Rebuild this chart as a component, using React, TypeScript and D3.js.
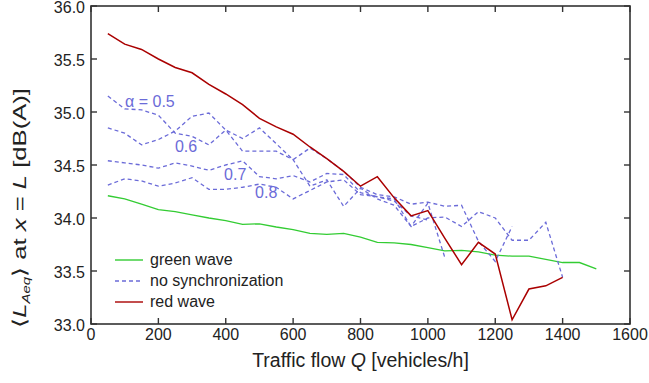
import React from 'react';
import * as d3 from 'd3';

// traffic flow Q [vehicles/h] at which the runs were taken
const flowQ = [
  50, 100, 150, 200, 250, 300, 350, 400, 450, 500, 550, 600, 650, 700, 750,
  800, 850, 900, 950, 1000, 1050, 1100, 1150, 1200, 1250, 1300, 1350, 1400, 1450, 1500,
];

const greenWave = [
  34.21, 34.18, 34.13, 34.08, 34.06, 34.03, 34.0, 33.975, 33.94, 33.945, 33.915, 33.89,
  33.855, 33.845, 33.855, 33.82, 33.77, 33.765, 33.75, 33.72, 33.69, 33.695, 33.68,
  33.65, 33.64, 33.64, 33.61, 33.58, 33.58, 33.52,
];

const redWave = [
  35.74, 35.64, 35.59, 35.5, 35.42, 35.37, 35.26, 35.17, 35.07, 34.94, 34.86, 34.79,
  34.67, 34.56, 34.44, 34.3, 34.39, 34.19, 34.02, 34.07, 33.81, 33.56, 33.77, 33.66,
  33.04, 33.33, 33.36, 33.44,
];

// no synchronization, one run per alpha
const noSync05 = [
  35.15, 35.03, 35.02, 34.97, 34.8, 34.77, 34.69, 34.83, 34.75, 34.85, 34.7, 34.55,
  34.66, 34.56, 34.44, 34.29, 34.22, 34.2, 34.13, 34.15, 34.11, 34.12, 33.78, 33.59, 33.92,
];
const noSync06 = [
  34.85, 34.8, 34.69, 34.74, 34.82, 34.96, 34.99, 34.83, 34.63, 34.63, 34.63, 34.55,
  34.3, 34.36, 34.11, 34.28, 34.18, 34.12, 33.92, 34.14, 33.63,
];
const noSync07 = [
  34.54, 34.52, 34.5, 34.47, 34.52, 34.49, 34.45, 34.5, 34.54, 34.39, 34.37, 34.4,
  34.34, 34.42, 34.41, 34.24, 34.2, 34.18, 33.92, 34.0, 34.01, 33.92, 34.06, 34.0,
  33.79, 33.79, 33.96, 33.44,
];
const noSync08 = [
  34.31, 34.37, 34.35, 34.3, 34.33, 34.38, 34.27, 34.27, 34.29, 34.32, 34.29, 34.18,
  34.26, 34.34, 34.36, 34.22, 34.2, 34.16, 34.02, 33.98,
];

const alphaLabels = ['\u03b1 = 0.5', '0.6', '0.7', '0.8'];
const alphaLabelQ = [101, 249, 395, 487];
const alphaLabelV = [35.05, 34.62, 34.36, 34.19];

const legendNames = ['green wave', 'no synchronization', 'red wave'];

const W = 649;
const H = 383;
const GREEN = '#33cc33';
const RED = '#aa0000';
const BLUE = '#6b6bd8';
const AXIS = '#333';
const FONT = '"Liberation Sans", Arial, sans-serif';

const App: React.FC = () => {
  const x = d3.scaleLinear().domain([0, 1600]).range([91, 630]);
  const y = d3.scaleLinear().domain([33, 36]).range([324, 6]);

  const line = d3.line<number>()
    .x((_, i) => x(flowQ[i]))
    .y(d => y(d));

  const dashed = [noSync05, noSync06, noSync07, noSync08];
  const xTicks = x.ticks(8);
  const yTicks = y.ticks(6);
  const tick = 6;

  const legend = [
    { name: legendNames[0], color: GREEN, dash: undefined },
    { name: legendNames[1], color: BLUE, dash: '4,3' },
    { name: legendNames[2], color: RED, dash: undefined },
  ];

  return (
    <svg
      width={W}
      height={H}
      style={{ position: 'absolute', left: 0, top: 0, background: '#fff' }}
      fontFamily={FONT}
    >
      {/* frame */}
      <rect x={x(0)} y={y(36)} width={x(1600) - x(0)} height={y(33) - y(36)}
        fill="none" stroke={AXIS} strokeWidth={1.6} />

      {/* x ticks, bottom and top, pointing inward */}
      {xTicks.map(t => (
        <g key={'x' + t}>
          <line x1={x(t)} x2={x(t)} y1={y(33)} y2={y(33) - tick} stroke={AXIS} strokeWidth={1.4} />
          <line x1={x(t)} x2={x(t)} y1={y(36)} y2={y(36) + tick} stroke={AXIS} strokeWidth={1.4} />
          <text x={x(t)} y={y(33) + 16} textAnchor="middle" fontSize={16} fill="#222">{t}</text>
        </g>
      ))}

      {/* y ticks, left and right */}
      {yTicks.map(t => (
        <g key={'y' + t}>
          <line x1={x(0)} x2={x(0) + tick} y1={y(t)} y2={y(t)} stroke={AXIS} strokeWidth={1.4} />
          <line x1={x(1600)} x2={x(1600) - tick} y1={y(t)} y2={y(t)} stroke={AXIS} strokeWidth={1.4} />
          <text x={x(0) - 6} y={y(t)} dy="0.42em" textAnchor="end" fontSize={16} fill="#222">
            {d3.format('.1f')(t)}
          </text>
        </g>
      ))}

      {/* series */}
      <path d={line(greenWave) ?? ''} fill="none" stroke={GREEN} strokeWidth={1.3} />
      {dashed.map((s, i) => (
        <path key={i} d={line(s) ?? ''} fill="none" stroke={BLUE} strokeWidth={1.3}
          strokeDasharray="4,3" />
      ))}
      <path d={line(redWave) ?? ''} fill="none" stroke={RED} strokeWidth={1.5} />

      {/* alpha labels */}
      {alphaLabels.map((t, i) => (
        <text key={t} x={x(alphaLabelQ[i])} y={y(alphaLabelV[i])} fontSize={16} fill={BLUE}>
          {t}
        </text>
      ))}

      {/* legend */}
      {legend.map((d, i) => (
        <g key={d.name} transform={`translate(115, ${260 + i * 21})`}>
          <line x1={0} x2={28} y1={0} y2={0} stroke={d.color} strokeWidth={1.4}
            strokeDasharray={d.dash} />
          <text x={35} y={0} dy="0.3em" fontSize={16} fill="#222">{d.name}</text>
        </g>
      ))}

      {/* axis titles */}
      <text x={(x(0) + x(1600)) / 2} y={367} textAnchor="middle" fontSize={19.5} fill="#222">
        Traffic flow <tspan fontStyle="italic">Q</tspan> [vehicles/h]
      </text>
      <text transform="translate(26, 208) rotate(-90) scale(1.35, 1)" textAnchor="middle"
        fontSize={19} fill="#222">
        {'\u27e8'}
        <tspan fontStyle="italic">L</tspan>
        <tspan fontStyle="italic" fontSize={11} dy={4}>Aeq</tspan>
        <tspan dy={-4}>{'\u27e9 at '}</tspan>
        <tspan fontStyle="italic">x</tspan>
        {' = '}
        <tspan fontStyle="italic">L</tspan>
        {' [dB(A)]'}
      </text>
    </svg>
  );
};

export default App;
